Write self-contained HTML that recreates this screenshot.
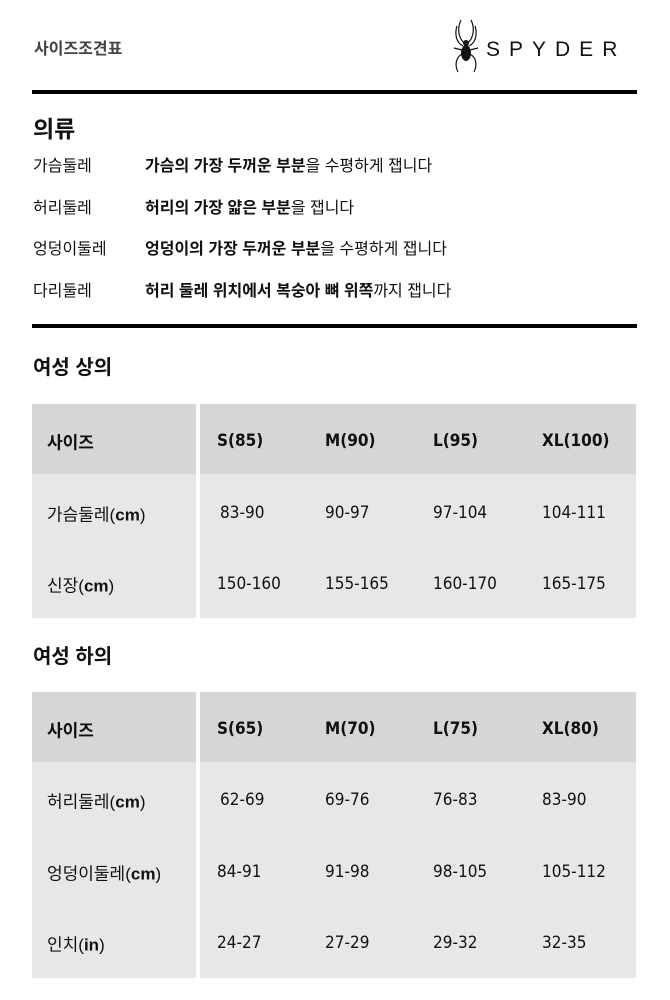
<!DOCTYPE html>
<html><head><meta charset="utf-8"><style>
body{margin:0;width:670px;height:1000px;background:#fff;font-family:"Liberation Sans","Noto Sans CJK KR",sans-serif;color:#111;position:relative;overflow:hidden}
.a{position:absolute;white-space:nowrap}
.line{position:absolute;left:32px;width:605px;height:4px;background:#000}
.cell{position:absolute}
.h{background:#d6d6d6}.b{background:#e7e7e7}
.t{position:absolute;white-space:nowrap;transform:translateY(-50%);font-size:17px}
.bold{font-weight:bold}
.n{font-family:"DejaVu Sans Condensed","Liberation Sans Narrow","Liberation Sans",sans-serif;font-size:17px}
</style></head><body>
<div class="a" style="left:34px;top:35px;font-size:16px;font-weight:bold;color:#444">사이즈조견표</div>
<svg class="a" style="left:452px;top:18px" width="190" height="58" viewBox="0 0 190 58">
<ellipse cx="14" cy="35" rx="5" ry="8" fill="#111"/><circle cx="14" cy="25" r="3" fill="#111"/>
<g stroke="#111" stroke-width="1.2" fill="none">
<path d="M12 25 C5 18 6 8 9 2"/><path d="M16 25 C23 18 22 8 19 2"/>
<path d="M11 28 C3 24 3 14 5 8"/><path d="M17 28 C25 24 25 14 23 8"/>
<path d="M10 36 C3 40 3 48 6 54"/><path d="M18 36 C25 40 25 48 22 54"/>
<path d="M10 32 L2 30"/><path d="M18 32 L26 30"/></g>
<text x="34" y="38" font-family="Liberation Sans" font-size="21" letter-spacing="9" fill="#111">SPYDER</text>
</svg>
<div class="line" style="top:90px"></div>
<div class="a bold" style="left:33px;top:110px;font-size:23px">의류</div>
<div class="a" style="left:33px;top:152px;font-size:16px">가슴둘레</div>
<div class="a" style="left:145px;top:152px;font-size:16px"><b>가슴의 가장 두꺼운 부분</b>을 수평하게 잽니다</div>
<div class="a" style="left:33px;top:194px;font-size:16px">허리둘레</div>
<div class="a" style="left:145px;top:194px;font-size:16px"><b>허리의 가장 얇은 부분</b>을 잽니다</div>
<div class="a" style="left:33px;top:235px;font-size:16px">엉덩이둘레</div>
<div class="a" style="left:145px;top:235px;font-size:16px"><b>엉덩이의 가장 두꺼운 부분</b>을 수평하게 잽니다</div>
<div class="a" style="left:33px;top:277px;font-size:16px">다리둘레</div>
<div class="a" style="left:145px;top:277px;font-size:16px"><b>허리 둘레 위치에서 복숭아 뼈 위쪽</b>까지 잽니다</div>
<div class="line" style="top:324px"></div>
<div class="a bold" style="left:33px;top:351px;font-size:20px">여성 상의</div>

<div class="cell h" style="left:32px;top:404px;width:164px;height:70px"></div>
<div class="cell h" style="left:200px;top:404px;width:436px;height:70px"></div>
<div class="cell b" style="left:32px;top:474px;width:164px;height:144px"></div>
<div class="cell b" style="left:200px;top:474px;width:436px;height:144px"></div>
<div class="t bold" style="left:47px;top:441px">사이즈</div>
<div class="t bold n" style="left:217px;top:441px">S(85)</div>
<div class="t bold n" style="left:325px;top:441px">M(90)</div>
<div class="t bold n" style="left:433px;top:441px">L(95)</div>
<div class="t bold n" style="left:542px;top:441px">XL(100)</div>
<div class="t" style="left:47px;top:513px">가슴둘레(<b>cm</b>)</div>
<div class="t n" style="left:220px;top:513px">83-90</div>
<div class="t n" style="left:325px;top:513px">90-97</div>
<div class="t n" style="left:433px;top:513px">97-104</div>
<div class="t n" style="left:542px;top:513px">104-111</div>
<div class="t" style="left:47px;top:584px">신장(<b>cm</b>)</div>
<div class="t n" style="left:217px;top:584px">150-160</div>
<div class="t n" style="left:325px;top:584px">155-165</div>
<div class="t n" style="left:433px;top:584px">160-170</div>
<div class="t n" style="left:542px;top:584px">165-175</div>

<div class="a bold" style="left:33px;top:640px;font-size:20px">여성 하의</div>
<div class="cell h" style="left:32px;top:692px;width:164px;height:70px"></div>
<div class="cell h" style="left:200px;top:692px;width:436px;height:70px"></div>
<div class="cell b" style="left:32px;top:762px;width:164px;height:216px"></div>
<div class="cell b" style="left:200px;top:762px;width:436px;height:216px"></div>
<div class="t bold" style="left:47px;top:729px">사이즈</div>
<div class="t bold n" style="left:217px;top:729px">S(65)</div>
<div class="t bold n" style="left:325px;top:729px">M(70)</div>
<div class="t bold n" style="left:433px;top:729px">L(75)</div>
<div class="t bold n" style="left:542px;top:729px">XL(80)</div>
<div class="t" style="left:47px;top:800px">허리둘레(<b>cm</b>)</div>
<div class="t n" style="left:220px;top:800px">62-69</div>
<div class="t n" style="left:325px;top:800px">69-76</div>
<div class="t n" style="left:433px;top:800px">76-83</div>
<div class="t n" style="left:542px;top:800px">83-90</div>
<div class="t" style="left:47px;top:872px">엉덩이둘레(<b>cm</b>)</div>
<div class="t n" style="left:217px;top:872px">84-91</div>
<div class="t n" style="left:325px;top:872px">91-98</div>
<div class="t n" style="left:433px;top:872px">98-105</div>
<div class="t n" style="left:542px;top:872px">105-112</div>
<div class="t" style="left:47px;top:943px">인치(<b>in</b>)</div>
<div class="t n" style="left:217px;top:943px">24-27</div>
<div class="t n" style="left:325px;top:943px">27-29</div>
<div class="t n" style="left:433px;top:943px">29-32</div>
<div class="t n" style="left:542px;top:943px">32-35</div>
</body></html>
